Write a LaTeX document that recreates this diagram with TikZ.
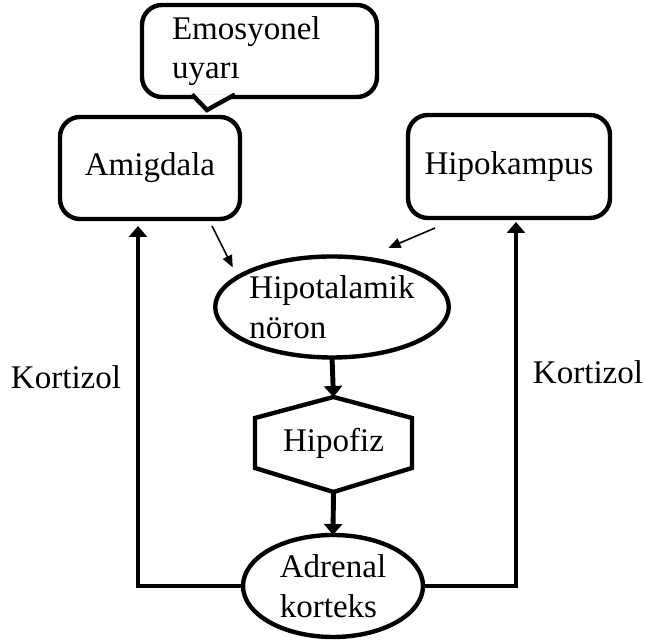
\documentclass[tikz,border=0pt]{standalone}
\usepackage{fontspec}
\setmainfont{Liberation Serif}
\usetikzlibrary{shapes.geometric,arrows.meta}

\begin{document}
\begin{tikzpicture}[inner sep=0pt,outer sep=0pt,line width=2.5pt,
font=\fontsize{18.8}{22.5}\selectfont,
roundbox/.style={draw,rectangle,rounded corners=0.4cm,minimum width=3.6cm,minimum height=2.04cm},
ovalbox/.style={draw,ellipse,align=left},
thickarrow/.style={line width=2.8pt,-{Triangle[length=0.22cm,width=0.36cm]}},
thinarrow/.style={line width=0.9pt,-{Triangle[length=0.24cm,width=0.2cm]}}]

\useasboundingbox (0,0) rectangle (12.9,12.88);

\draw (3.0,9.52) node[roundbox] (amig) {Amigdala};
\draw (10.18,9.55) node[roundbox,minimum width=4.04cm,minimum height=2.06cm] (hipok) {Hipokampus};
\draw (5.19,11.86) node[roundbox,minimum width=4.7cm,minimum height=1.84cm,text width=3.5cm,inner xsep=0.6cm,align=left] (uyari) {Emosyonel\\uyarı};
\coordinate (uyaritip) at (4.14,10.68);
\draw[fill=white] ([xshift=1.0cm,yshift=0.05cm]uyari.south west) -- (uyaritip) -- ([xshift=1.86cm,yshift=0.05cm]uyari.south west);
\draw (6.64,6.74) node[ovalbox,minimum width=4.58cm,minimum height=2.02cm] (hipot) {Hipotalamik\\nöron};
\draw (6.67,4.02) node[rectangle,minimum width=3.14cm,minimum height=1.0cm] (hipof) {Hipofiz};
\coordinate (hipoftop) at ([yshift=0.42cm]hipof.north);
\coordinate (hipofbot) at ([yshift=-0.48cm]hipof.south);
\draw (hipof.north west) -- (hipoftop) -- (hipof.north east) -- (hipof.south east) -- (hipofbot) -- (hipof.south west) -- cycle;
\draw (6.66,1.16) node[ovalbox,minimum width=3.6cm,minimum height=2.04cm] (adren) {Adrenal\\korteks};

\draw[thickarrow] (hipot.south) -- (hipoftop);
\draw[thickarrow] (hipofbot) -- (adren.north);
\draw[thickarrow,shorten >=0.14cm] (adren.west) -| ([xshift=-0.24cm]amig.south);
\draw[thickarrow,shorten >=0.08cm] (adren.east) -| ([xshift=0.14cm]hipok.south);
\draw[thinarrow] ([xshift=-0.56cm,yshift=-0.14cm]amig.south east) -- ([yshift=0.26cm]hipot.165);
\draw[thinarrow] ([xshift=0.54cm,yshift=-0.2cm]hipok.south west) -- ([yshift=0.3cm]hipot.38);

\draw (1.32,5.34) node (kortL) {Kortizol};
\draw (11.76,5.44) node (kortR) {Kortizol};
\end{tikzpicture}
\end{document}
